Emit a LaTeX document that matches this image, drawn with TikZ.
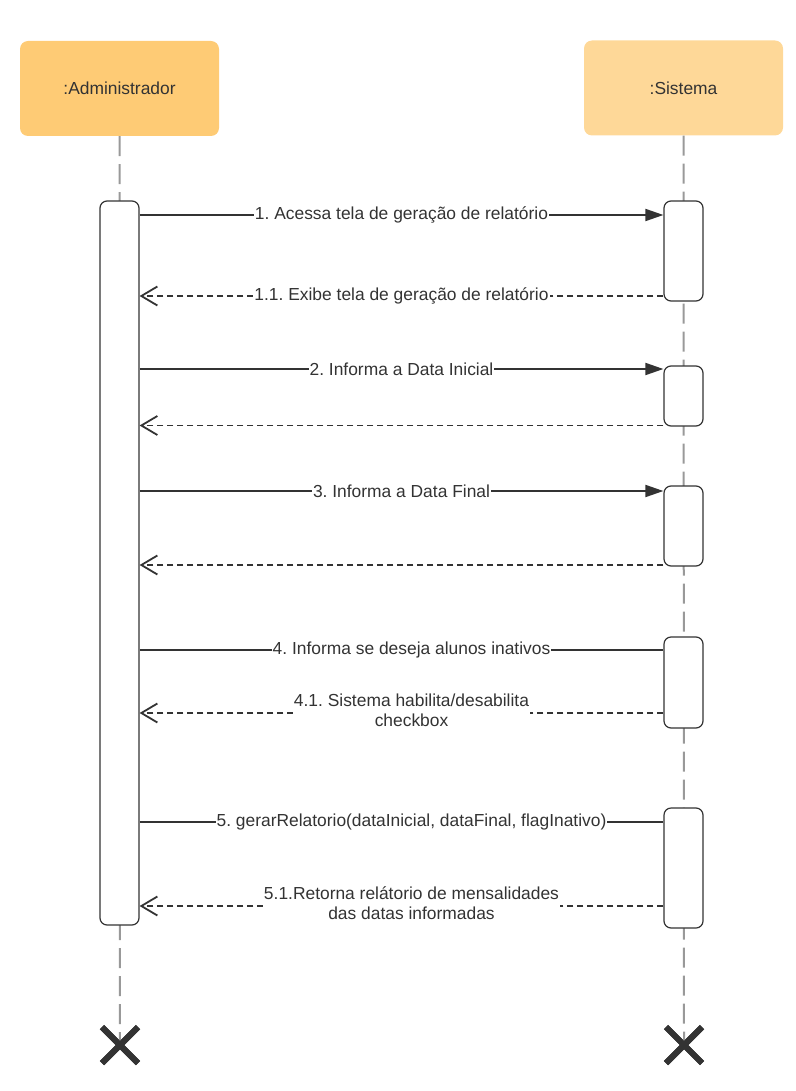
\documentclass[tikz,border=0pt]{standalone}
\usepackage{fontspec}
\setmainfont{Liberation Sans}
\usetikzlibrary{arrows.meta,shapes.misc}
\definecolor{hdrA}{RGB}{254,203,117}
\definecolor{hdrB}{RGB}{254,216,152}
\definecolor{ink}{RGB}{51,51,51}
\definecolor{life}{RGB}{153,153,153}
\frenchspacing
\begin{document}
\begin{tikzpicture}[x=1pt,y=-1pt, font=\fontsize{17.4}{20}\selectfont,
  header/.style={rounded corners=8pt, minimum width=199pt, minimum height=95pt, text=ink, inner sep=0pt},
  lifeline/.style={draw=life, line width=2pt, dash pattern=on 20pt off 8pt},
  act/.style={draw=ink, fill=white, line width=1.2pt, rounded corners=7pt, minimum width=39pt, inner sep=0pt},
  call/.style={draw=ink, line width=1.8pt, -{Triangle[length=18pt,width=12pt]}},
  callplain/.style={draw=ink, line width=1.8pt},
  reply/.style={draw=ink, line width=1.8pt, dash pattern=on 6pt off 4pt, -{Straight Barb[length=16pt,width=19pt,line width=1.8pt]}},
  lbl/.style={fill=white, text=ink, inner sep=1pt, align=center},
  kill/.style={draw=ink, cross out, line width=6pt, minimum size=30pt, inner sep=0pt}]
\useasboundingbox (0,0) rectangle (795,1091);

% headers
\node[header, fill=hdrA] (admin) at (119.5,88.5) {:Administrador};
\node[header, fill=hdrB] (sis) at (683.5,88) {:Sistema};

% destruction marks
\node[kill] (xa) at (120,1045) {};
\node[kill] (xs) at (684,1045) {};

% lifelines
\draw[lifeline] (admin.south) -- (xa.center);
\draw[lifeline] (sis.south) -- (xs.center);
\node[kill] at (xa) {};
\node[kill] at (xs) {};

% activations
\node[act, minimum height=724pt] (a0) at (119.5,563) {};
\node[act, minimum height=100pt] (s1) at (683.5,251) {};
\node[act, minimum height=60pt] (s2) at (683.5,396) {};
\node[act, minimum height=80pt] (s3) at (683.5,526) {};
\node[act, minimum height=91pt] (s4) at (683.5,682.5) {};
\node[act, minimum height=120pt] (s5) at (683.5,868) {};

% message rows
\coordinate (m1) at (0,215);
\coordinate (r1) at (0,296);
\coordinate (m2) at (0,369);
\coordinate (r2) at (0,425.5);
\coordinate (m3) at (0,491);
\coordinate (r3) at (0,565);
\coordinate (m4) at (0,650);
\coordinate (r4) at (0,713);
\coordinate (m5) at (0,822);
\coordinate (r5) at (0,906);

\draw[call] (a0.east |- m1) -- (s1.west |- m1)
  node[midway, lbl] {1. Acessa tela de geração de relatório};
\draw[reply] (s1.west |- r1) -- (a0.east |- r1)
  node[midway, lbl] {1.1. Exibe tela de geração de relatório};
\draw[call] (a0.east |- m2) -- (s2.west |- m2)
  node[midway, lbl] {2. Informa a Data Inicial};
\draw[reply] (s2.west |- r2) -- (a0.east |- r2);
\draw[call] (a0.east |- m3) -- (s3.west |- m3)
  node[midway, lbl] {3. Informa a Data Final};
\draw[reply] (s3.west |- r3) -- (a0.east |- r3);
\draw[callplain] (a0.east |- m4) -- (s4.west |- m4)
  node[midway, lbl, xshift=10pt] {4. Informa se deseja alunos inativos};
\draw[reply] (s4.west |- r4) -- (a0.east |- r4)
  node[midway, lbl, xshift=10pt, yshift=3pt] {4.1. Sistema habilita/desabilita\\checkbox};
\draw[callplain] (a0.east |- m5) -- (s5.west |- m5)
  node[midway, lbl, xshift=10pt] {5. gerarRelatorio(dataInicial, dataFinal, flagInativo)};
\draw[reply] (s5.west |- r5) -- (a0.east |- r5)
  node[midway, lbl, xshift=10pt, yshift=3pt] {5.1.Retorna relátorio de mensalidades\\das datas informadas};
\end{tikzpicture}
\end{document}
